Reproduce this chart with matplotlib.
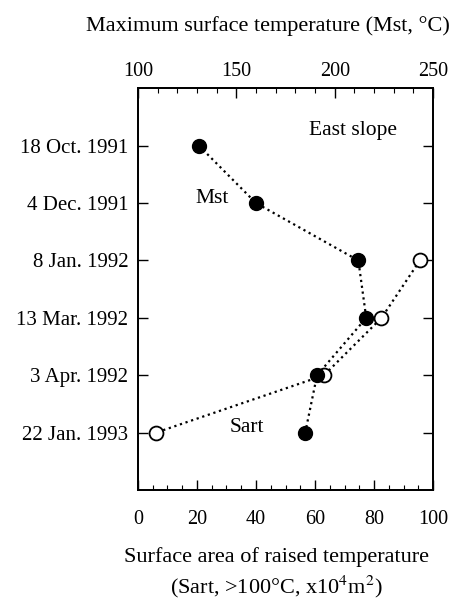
import numpy as np
import matplotlib
matplotlib.use("Agg")
import matplotlib.pyplot as plt
from matplotlib.ticker import MultipleLocator

plt.rcParams["font.family"] = ["Liberation Serif", "DejaVu Serif"]
plt.rcParams["mathtext.fontset"] = "stix"

# Data
dates = ["18 Oct. 1991", "4 Dec. 1991", "8 Jan. 1992",
         "13 Mar. 1992", "3 Apr. 1992", "22 Jan. 1993"]
mst = [131, 160, 212, 216, 191, 185]          # max surface temperature, degC
sart_dates = ["8 Jan. 1992", "13 Mar. 1992", "3 Apr. 1992", "22 Jan. 1993"]
sart = [95.5, 82.5, 63, 6]                    # area > 100 degC, x10^4 m^2

ypos = {d: i + 1 for i, d in enumerate(dates)}

fig = plt.figure(figsize=(4.55, 6), dpi=100)
ax = fig.add_axes([0.303, 0.183, 0.649, 0.670])
ax_top = ax.twiny()

# Sart (open circles, bottom axis)
ax.plot(sart, [ypos[d] for d in sart_dates], ls=":", lw=1.6, color="black",
        marker="o", ms=10, mfc="white", mec="black", mew=1.3, zorder=3)

# Mst (filled circles, top axis)
ax_top.plot(mst, [ypos[d] for d in dates], ls=":", lw=1.6, color="black",
            marker="o", ms=10, mfc="black", mec="black", zorder=3)

ax.set_xlim(0, 100)
ax_top.set_xlim(100, 250)
ax.set_ylim(7, 0)

ax.set_yticks(list(ypos.values()))
ax.set_yticklabels(dates, fontsize=15)
ax.xaxis.set_major_locator(MultipleLocator(20))
ax.xaxis.set_minor_locator(MultipleLocator(5))
ax_top.xaxis.set_major_locator(MultipleLocator(50))
ax_top.xaxis.set_minor_locator(MultipleLocator(10))

for a in (ax, ax_top):
    for s in a.spines.values():
        s.set_linewidth(1.3)
    a.tick_params(which="major", direction="in", length=7, width=1.0)
    a.tick_params(which="minor", direction="in", length=3.5, width=0.8)
    a.tick_params(axis="x", labelsize=14.5)

ax.tick_params(axis="y", which="both", left=True, right=True, pad=7)
ax.tick_params(axis="x", which="both", top=False, pad=14)
ax_top.tick_params(axis="x", which="both", bottom=False, pad=5)

ax.set_xlabel("Surface area of raised temperature\n"
              "(Sart, >100\u00b0C, x10$^4$m$^2$)",
              fontsize=16, linespacing=1.35, va="center")
ax.xaxis.set_label_coords(0.47, -0.207)
ax_top.set_xlabel("Maximum surface temperature (Mst, \u00b0C)",
                  fontsize=16, va="center")
ax_top.xaxis.set_label_coords(0.44, 1.155)

ax.text(0.73, 0.895, "East slope", transform=ax.transAxes, fontsize=15.5,
        ha="center", va="center")
ax.text(0.25, 0.726, "Mst", transform=ax.transAxes, fontsize=15.5,
        ha="center", va="center")
ax.text(0.37, 0.157, "Sart", transform=ax.transAxes, fontsize=15.5,
        ha="center", va="center")

fig.savefig("out.png", dpi=100)
